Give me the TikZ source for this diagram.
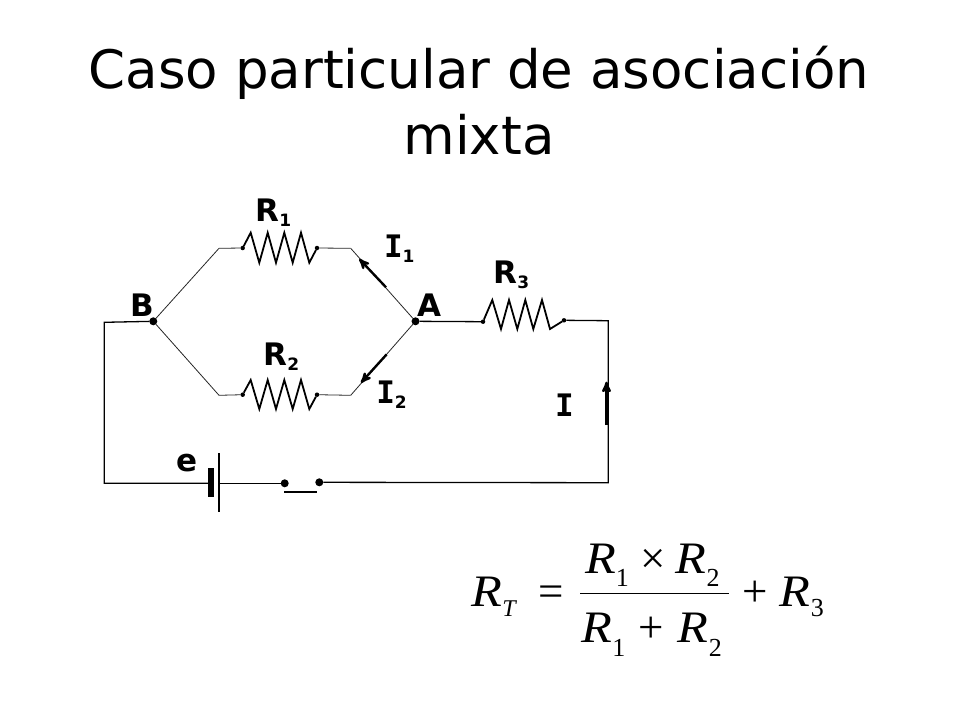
\documentclass[tikz,border=0pt]{standalone}
\usepackage{fontspec}
\setmainfont{DejaVu Sans}
\newfontfamily\serifbold[BoldFont={DejaVu Sans Mono Bold}]{DejaVu Sans Mono}
\newfontfamily\timesfont{Liberation Serif}
\newfontfamily\widefont[FakeStretch=1.12]{Liberation Serif}
\usetikzlibrary{arrows}

\newcommand{\lab}[2]{\fontsize{31}{31}\selectfont\bfseries #1\kern0.5pt\raisebox{-5pt}{\fontsize{17}{17}\selectfont #2}}
\newcommand{\labi}[1]{\fontsize{31}{31}\selectfont\serifbold\bfseries\kern-2pt I\raisebox{-5pt}{\fontsize{17}{17}\selectfont\normalfont\bfseries #1}}
\newcommand{\rlet}{{\widefont\itshape R}}
\newcommand{\rsub}[2]{\rlet\raisebox{-#2}{\fontsize{26}{26}\selectfont #1}}

\begin{document}
\begin{tikzpicture}[x=1pt,y=-1pt,>=stealth',thin]
                \tikzset{every node/.style={inner sep=0pt, outer sep=0pt}}
                \tikzset{junction/.style={circle, fill=black, minimum size=8pt}}
                \tikzset{pin/.style={circle, fill=black, minimum size=4.5pt}}
                \tikzset{wire/.style={line width=1.3pt}}
                \tikzset{branch/.style={line width=0.8pt, black!85}}
                \tikzset{zigzag/.style={line width=1.8pt, line join=miter}}
                \tikzset{current/.style={->, line width=2.4pt}}
                \tikzset{formula/.style={anchor=base west, font=\fontsize{45}{45}\selectfont\timesfont}}
                \useasboundingbox (0,0) rectangle (960,720);

                % title
                \node[align=center, anchor=base, font=\fontsize{53}{66}\selectfont] (title) at (479,154) {Caso particular de asociación\\mixta};

                % parallel branches
                \node[junction] (B) at (153.3,321.3) {};
                \node[junction] (A) at (415.5,321.3) {};
                \coordinate (tl) at (219,248.3);
                \coordinate (tr) at (350.7,248.3);
                \coordinate (bl) at (219,395.3);
                \coordinate (br) at (350.7,395.3);
                \node[pin] (R1a) at (242.7,248) {};
                \node[pin] (R1b) at (317,248) {};
                \node[pin] (R2a) at (242.7,394.7) {};
                \node[pin] (R2b) at (317,394.7) {};
                \node[pin] (R3a) at (483,321.7) {};
                \node[pin] (R3b) at (564,320.3) {};

                \path[branch] (B) edge (tl);
                \path[branch] (tl) edge (R1a);
                \path[branch] (R1b) edge (tr);
                \path[branch] (tr) edge (A);
                \path[branch] (B) edge (bl);
                \path[branch] (bl) edge (R2a);
                \path[branch] (R2b) edge (br);
                \path[branch] (br) edge (A);

                % resistors
                \draw[zigzag] (R1a) -- (250.7,232.7) -- (259.3,262.7) -- (267.7,232.7) -- (276,262.7) -- (284.3,232.7) -- (292.7,262.7) -- (301,232.7) -- (309.3,262.7) -- (R1b);
                \draw[zigzag] (R2a) -- (250.7,380) -- (259.3,409) -- (267.7,380) -- (276,409) -- (284.3,380) -- (292.7,409) -- (301,380) -- (309.3,409) -- (R2b);
                \draw[zigzag] (R3a) -- (492.3,300) -- (501,329) -- (509,300) -- (517.3,329) -- (525.3,300) -- (533.3,329) -- (542,300) -- (550,329) -- (R3b);

                % outer loop
                \coordinate (lt) at (104.3,322.3);
                \coordinate (lb) at (104.3,483.3);
                \coordinate (rt) at (608.3,320.7);
                \coordinate (rb) at (608.3,482.7);
                \coordinate (bat1a) at (211,468);
                \coordinate (bat1b) at (211,496.7);
                \coordinate (bat2a) at (218.7,453.3);
                \coordinate (bat2b) at (218.7,511.7);
                \coordinate (bat1) at (211,483.3);
                \coordinate (bat2) at (218.7,483.3);
                \node[junction] (S1) at (284.7,483.3) {};
                \node[junction] (S2) at (319.3,482.3) {};
                \coordinate (bara) at (284.3,492);
                \coordinate (barb) at (317.3,492);

                \draw[wire] (B) -- (lt) -- (lb) -- (bat1);
                \draw[wire] (bat2) -- (S1);
                \draw[wire] (S2) -- (rb) -- (rt) -- (R3b);
                \draw[wire] (A) -- (R3a);
                \draw[line width=5.5pt] (bat1a) -- (bat1b);
                \draw[line width=1.8pt] (bat2a) -- (bat2b);
                \draw[line width=2.6pt] (bara) -- (barb);

                % currents
                \coordinate (I1a) at (386,287.3);
                \coordinate (I1b) at (359.3,259);
                \coordinate (I2a) at (386.7,354.3);
                \coordinate (I2b) at (361,382.7);
                \coordinate (Ia) at (606.5,425);
                \coordinate (Ib) at (606.5,381.7);
                \draw[current] (I1a) -- (I1b);
                \draw[current] (I2a) -- (I2b);
                \draw[current] (Ia) -- (Ib);

                % labels
                \node[anchor=base west] (lR1) at (255,221.7) {\lab{R}{1}};
                \node[anchor=base west] (lR2) at (263,365) {\lab{R}{2}};
                \node[anchor=base west] (lR3) at (493,283.3) {\lab{R}{3}};
                \node[anchor=base west] (lI1) at (386,257.7) {\labi{1}};
                \node[anchor=base west] (lI2) at (378.3,403.3) {\labi{2}};
                \node[anchor=base west] (lI) at (557,416.7) {\labi{}};
                \node[anchor=base west] (lA) at (417.7,316.7) {\lab{A}{}};
                \node[anchor=base west] (lB) at (130,316) {\lab{B}{}};
                \node[anchor=base west] (le) at (176,471.7) {\lab{e}{}};

                % formula
                \coordinate (fraca) at (580,593.3);
                \coordinate (fracb) at (729.3,593.3);
                \node[formula] (RT) at (471.7,606) {\rlet\raisebox{-10.7pt}{\fontsize{24}{24}\selectfont\textit{T}}\kern21pt=};
                \node[formula] (num) at (585,573.3) {\rsub{1}{13.4pt}\kern12pt×\kern9.6pt\rsub{2}{13.4pt}};
                \node[formula] (den) at (581.7,642.7) {\rsub{1}{13.4pt}\kern13.5pt+\kern13.6pt\rsub{2}{13.4pt}};
                \node[formula] (plus) at (742,606) {+\kern12.6pt\rsub{3}{10.7pt}};
                \draw[line width=1pt] (fraca) -- (fracb);
            \end{tikzpicture}
\end{document}
